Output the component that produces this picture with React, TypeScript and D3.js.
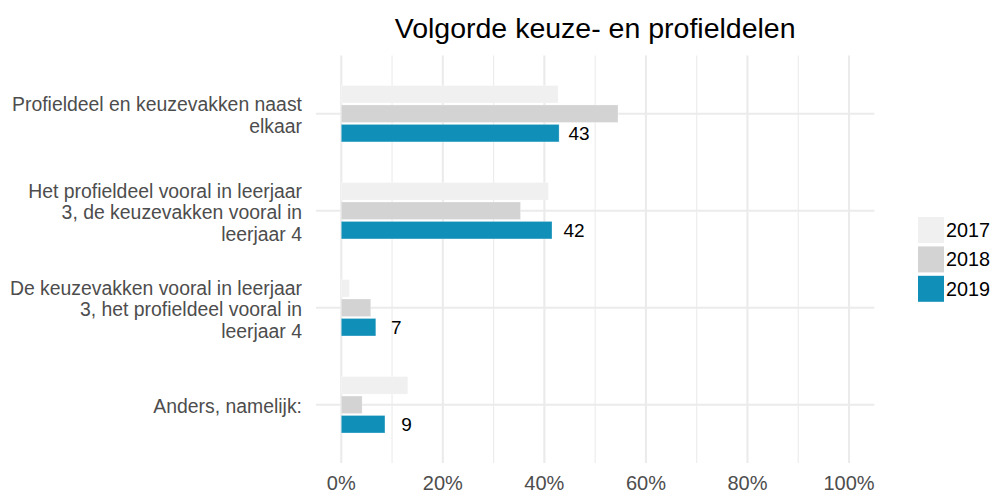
import React from "react";
import * as d3 from "d3";

const categories: string[][] = [
  ["Profieldeel en keuzevakken naast", "elkaar"],
  ["Het profieldeel vooral in leerjaar", "3, de keuzevakken vooral in", "leerjaar 4"],
  ["De keuzevakken vooral in leerjaar", "3, het profieldeel vooral in", "leerjaar 4"],
  ["Anders, namelijk:"],
];
const years = ["2017", "2018", "2019"];
const values2017 = [42.7, 40.8, 1.6, 13.1];
const values2018 = [54.5, 35.3, 5.8, 4.1];
const values2019 = [42.9, 41.5, 6.8, 8.6];
const xTicks = [0, 20, 40, 60, 80, 100];
const xMinorTicks = [10, 30, 50, 70, 90];
const colors = ["#F0F0F0", "#D3D3D3", "#108FB9"];
const title = "Volgorde keuze- en profieldelen";

const W = 993;
const H = 493;
const FONT = "'Liberation Sans', Arial, sans-serif";

export default function App() {
  const series = [values2017, values2018, values2019];
  const catKeys = categories.map((c) => c.join(" "));
  const x = d3.scaleLinear().domain([-5, 105]).range([315.9, 874.4]);
  const y = d3.scalePoint<string>().domain(catKeys).range([55.5, 463]).padding(0.6);
  const inner = d3.scaleBand<string>().domain(years).range([-28.2, 28.2]).paddingInner(0.1);
  const bw = inner.bandwidth();
  const lh = 21.5;
  const fs = 19.4;

  return (
    <svg width={W} height={H} style={{ position: "absolute", left: 0, top: 0, background: "#fff" }} fontFamily={FONT}>
      {xMinorTicks.map((t) => (
        <line key={"mn" + t} x1={x(t)} x2={x(t)} y1={55.5} y2={463} stroke="#EBEBEB" strokeWidth={1.1} />
      ))}
      {xTicks.map((t) => (
        <line key={"mj" + t} x1={x(t)} x2={x(t)} y1={55.5} y2={463} stroke="#EBEBEB" strokeWidth={2.1} />
      ))}
      {catKeys.map((c) => (
        <line key={"h" + c} x1={315.9} x2={874.4} y1={y(c)!} y2={y(c)!} stroke="#EBEBEB" strokeWidth={2.1} />
      ))}
      {catKeys.map((c, i) =>
        years.map((yr, j) => (
          <rect
            key={c + yr}
            x={x(0)}
            y={y(c)! + inner(yr)!}
            width={x(series[j][i]) - x(0)}
            height={bw}
            fill={colors[j]}
            stroke="#ffffff"
            strokeOpacity={0.35}
            strokeWidth={0.8}
          />
        ))
      )}
      {catKeys.map((c, i) => (
        <text
          key={"v" + c}
          x={x(Math.round(values2019[i])) + 19.5}
          y={y(c)! + inner("2019")! + bw / 2 + 6.8}
          textAnchor="middle"
          fontSize={19}
          fill="#000"
        >
          {Math.round(values2019[i])}
        </text>
      ))}
      {categories.map((lines, i) => {
        const cy = y(catKeys[i])!;
        return (
          <text key={"yl" + i} textAnchor="end" fontSize={fs} fill="#4D4D4D">
            {lines.map((ln, k) => (
              <tspan key={k} x={302} y={cy + (k - (lines.length - 1) / 2) * lh + 8.5}>
                {ln}
              </tspan>
            ))}
          </text>
        );
      })}
      {xTicks.map((t) => (
        <text key={"xt" + t} x={x(t)} y={489.5} textAnchor="middle" fontSize={20} fill="#4D4D4D">
          {t + "%"}
        </text>
      ))}
      <text x={(315.9 + 874.4) / 2} y={37.5} textAnchor="middle" fontSize={28.5} fill="#000">
        {title}
      </text>
      {years.map((yr, j) => (
        <g key={"lg" + yr}>
          <rect x={918} y={217 + j * 29.4} width={26} height={26} fill={colors[j]} />
          <text x={946} y={217 + j * 29.4 + 13 + 7} fontSize={19.8} fill="#000">
            {yr}
          </text>
        </g>
      ))}
    </svg>
  );
}
